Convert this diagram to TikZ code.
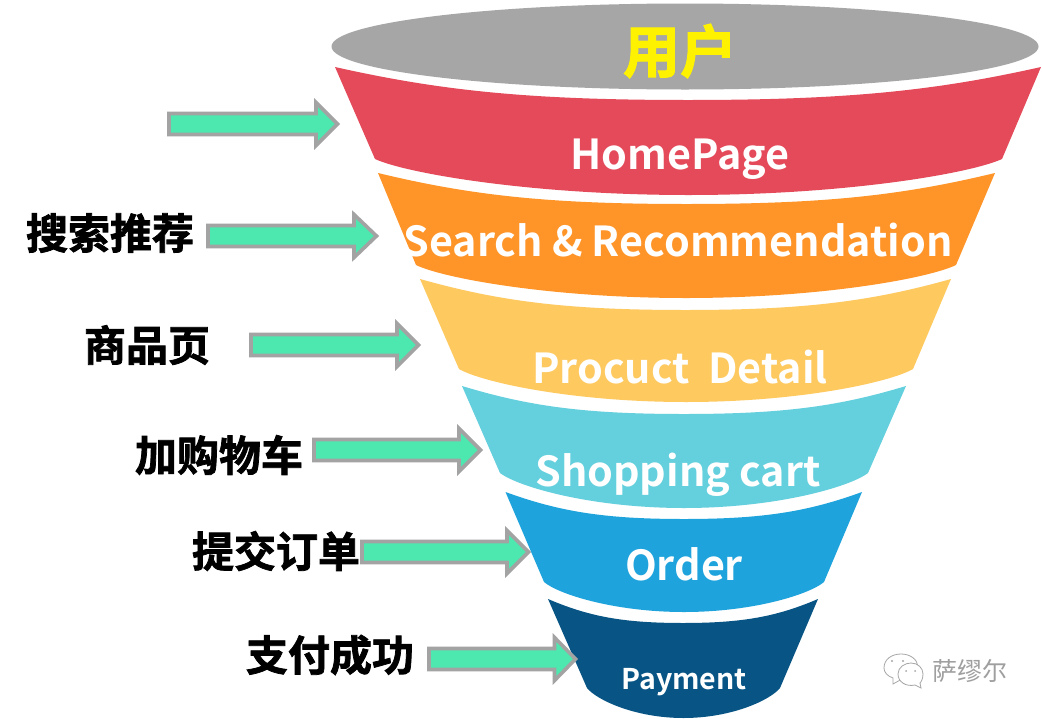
\documentclass[tikz,border=0pt]{standalone}
\usepackage{fontspec}
\setmainfont{Noto Sans CJK SC}[BoldFont={Noto Sans CJK SC Bold}]
\newfontfamily\heavyfont{Noto Sans CJK SC Bold}[FakeBold=1.8]
\newfontfamily\latinfont{Noto Sans CJK SC Bold}
\newfontfamily\markfont{Noto Sans CJK SC}
\definecolor{cEll}{HTML}{A6A6A6}
\definecolor{cRed}{HTML}{E44A5A}
\definecolor{cOra}{HTML}{FF9428}
\definecolor{cYel}{HTML}{FEC95F}
\definecolor{cCya}{HTML}{64CFDD}
\definecolor{cBlu}{HTML}{1FA3DC}
\definecolor{cNav}{HTML}{085585}
\definecolor{cGrn}{HTML}{4CE8AF}
\definecolor{cBor}{HTML}{A3A3A3}
\tikzset{
  bandtext/.style={text=white,inner sep=0pt,font=\latinfont},
  sidetext/.style={text=black,inner sep=0pt,font=\heavyfont\fontsize{42}{42}\selectfont},
  blockarrow/.style={draw=cBor,fill=cGrn,line width=3.6pt,line join=miter},
  bubble/.style={draw=gray!70,fill=white,line width=0.8pt},
  eyedot/.style={fill=gray!70},
}
% #1 colour, #2 left top x, #3 corner y, #4 right top x, #5 top centre y,
% #6 low left x, #7 low corner y, #8 low right x, #9 bottom centre y
\newcommand{\bandshape}[9]{%
  \fill[#1] (#2,#3)
    .. controls ({#2+0.30*(#4-#2)/2},{#3+0.72*(#5-#3)}) and ({(#2+#4)/2-0.45*(#4-#2)/2},#5) .. ({(#2+#4)/2},#5)
    .. controls ({(#2+#4)/2+0.45*(#4-#2)/2},#5) and ({#4-0.30*(#4-#2)/2},{#3+0.72*(#5-#3)}) .. (#4,#3)
    -- (#8,#7)
    .. controls ({#8-0.10*(#8-#6)/2},{#7+0.40*(#9-#7)}) and ({(#6+#8)/2+0.50*(#8-#6)/2},#9) .. ({(#6+#8)/2},#9)
    .. controls ({(#6+#8)/2-0.50*(#8-#6)/2},#9) and ({#6+0.10*(#8-#6)/2},{#7+0.40*(#9-#7)}) .. (#6,#7)
    -- cycle;}
% #1 tail x, #2 head x, #3 tip x, #4 centre y
\newcommand{\blockarr}[4]{%
  \draw[blockarrow] (#1,#4-10.5) -- (#2,#4-10.5) -- (#2,#4-21.5) -- (#3-2.5,#4) -- (#2,#4+21.5) -- (#2,#4+10.5) -- (#1,#4+10.5) -- cycle;}
\begin{document}
\begin{tikzpicture}[x=1pt,y=-1pt]
\useasboundingbox (0,0) rectangle (1042,718);
\fill[white] (0,0) rectangle (1042,718);
\fill[cEll] (685,46.5) ellipse [x radius=353.5, y radius=43];
\bandshape{cRed}{335}{67}{1041}{100}{375}{159}{1002}{195}
\bandshape{cOra}{378}{173}{995}{204}{416}{265}{956}{298}
\bandshape{cYel}{420}{279}{951}{310}{459}{369}{913}{402}
\bandshape{cCya}{462}{386}{906}{414}{500}{473}{868}{508}
\bandshape{cBlu}{505.5}{492}{862}{519}{544}{582}{824}{612}
\bandshape{cNav}{548}{599}{818}{623}{587}{688}{780}{718}
\node[inner sep=0pt,text=yellow,font=\heavyfont\fontsize{57}{57}\selectfont] (user) at (680,51) {用户};
\node[bandtext,font=\latinfont\fontsize{41.3}{41}\selectfont] (home) at (680,159) {HomePage};
\node[bandtext,font=\latinfont\fontsize{41.3}{41}\selectfont] (search) at (678,240) {Search \& Recommendation};
\node[bandtext,font=\latinfont\fontsize{41.3}{41}\selectfont] (detail) at (680,367) {Procuct\ \ Detail};
\node[bandtext,font=\latinfont\fontsize{41.3}{41}\selectfont] (cart) at (678,475) {Shopping cart};
\node[bandtext,font=\latinfont\fontsize{41.3}{41}\selectfont] (order) at (684,564) {Order};
\node[bandtext,font=\latinfont\fontsize{28.5}{28}\selectfont] (pay) at (684,682) {Payment};
\node[sidetext] (l1) at (110,233) {搜索推荐};
\node[sidetext] (l2) at (147,345) {商品页};
\node[sidetext] (l3) at (219,455) {加购物车};
\node[sidetext] (l4) at (276,551) {提交订单};
\node[sidetext] (l5) at (330,655) {支付成功};
\blockarr{169}{316}{340}{124}
\blockarr{208}{354}{379}{236}
\blockarr{251}{397}{421}{345}
\blockarr{314}{459}{483}{450}
\blockarr{362}{507}{531}{552}
\blockarr{429}{554.5}{578}{659}
% watermark
\draw[bubble] (884,668) .. controls (884,659) and (892,654) .. (901,654) .. controls (910,654) and (917,659) .. (918,666) .. controls (918,674) and (911,679) .. (902,679) -- (893,684) -- (893,678) .. controls (887,676) and (884,672) .. (884,668) -- cycle;
\draw[bubble] (898,674) .. controls (898,667) and (905,663) .. (911,663) .. controls (918,663) and (923,668) .. (923,674) .. controls (923,679) and (921,682) .. (920,683) -- (921,688) -- (915,685) .. controls (906,687) and (898,682) .. (898,674) -- cycle;
\fill[eyedot] (892,661) circle (1.1);
\fill[eyedot] (903,661) circle (1.1);
\fill[eyedot] (906,671) circle (1);
\fill[eyedot] (915,671) circle (1);
\node[inner sep=0pt,text=gray!75,font=\markfont\fontsize{25}{25}\selectfont] (mark) at (970,671) {萨缪尔};
\end{tikzpicture}
\end{document}
